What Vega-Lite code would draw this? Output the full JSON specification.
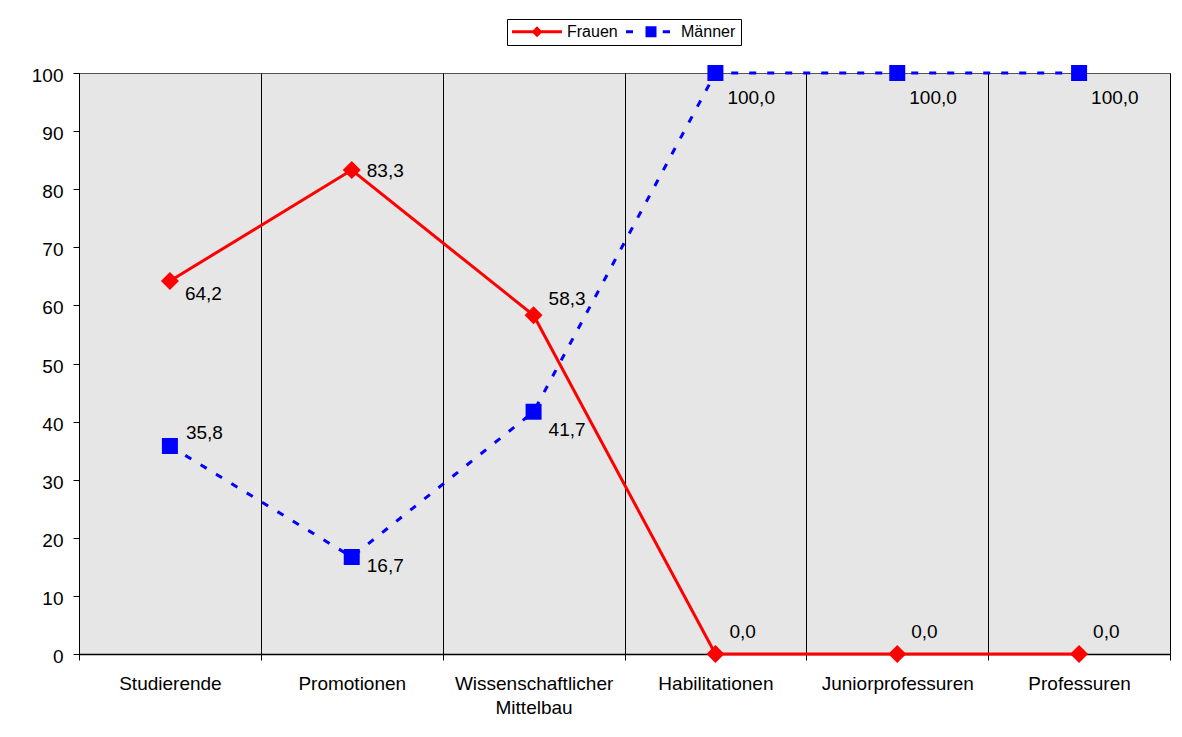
{
  "$schema": "https://vega.github.io/schema/vega-lite/v6.json",
  "width": 1091,
  "height": 581,
  "autosize": {"type": "none"},
  "padding": {"left": 79, "top": 73, "right": 12, "bottom": 83},
  "background": "white",
  "data": {
    "values": [
      {"Bereich": "Studierende", "Geschlecht": "Frauen", "Anteil": 64.2},
      {"Bereich": "Promotionen", "Geschlecht": "Frauen", "Anteil": 83.3},
      {"Bereich": "Wissenschaftlicher Mittelbau", "Geschlecht": "Frauen", "Anteil": 58.3},
      {"Bereich": "Habilitationen", "Geschlecht": "Frauen", "Anteil": 0},
      {"Bereich": "Juniorprofessuren", "Geschlecht": "Frauen", "Anteil": 0},
      {"Bereich": "Professuren", "Geschlecht": "Frauen", "Anteil": 0},
      {"Bereich": "Studierende", "Geschlecht": "Männer", "Anteil": 35.8},
      {"Bereich": "Promotionen", "Geschlecht": "Männer", "Anteil": 16.7},
      {"Bereich": "Wissenschaftlicher Mittelbau", "Geschlecht": "Männer", "Anteil": 41.7},
      {"Bereich": "Habilitationen", "Geschlecht": "Männer", "Anteil": 100},
      {"Bereich": "Juniorprofessuren", "Geschlecht": "Männer", "Anteil": 100},
      {"Bereich": "Professuren", "Geschlecht": "Männer", "Anteil": 100}
    ]
  },
  "encoding": {
    "x": {
      "field": "Bereich",
      "type": "nominal",
      "sort": ["Studierende", "Promotionen", "Wissenschaftlicher Mittelbau", "Habilitationen", "Juniorprofessuren", "Professuren"],
      "bandPosition": 0.5,
      "scale": {"type": "band", "paddingInner": 0, "paddingOuter": 0},
      "axis": {
        "title": null,
        "tickBand": "extent",
        "grid": true,
        "gridColor": "#000000",
        "gridWidth": 1,
        "gridOpacity": 1,
        "domainColor": "#000000",
        "domainWidth": 1.5,
        "tickColor": "#000000",
        "tickSize": 6,
        "labelAngle": 0,
        "labelPadding": 14,
        "labelLineHeight": 24,
        "labelOverlap": false,
        "labelBound": false,
        "labelFlush": false,
        "labelExpr": "datum.value === 'Wissenschaftlicher Mittelbau' ? ['Wissenschaftlicher', 'Mittelbau'] : datum.label"
      }
    },
    "y": {
      "field": "Anteil",
      "type": "quantitative",
      "scale": {"domain": [0, 100], "nice": false, "zero": true},
      "axis": {
        "title": null,
        "grid": false,
        "values": [0, 10, 20, 30, 40, 50, 60, 70, 80, 90, 100],
        "format": "d",
        "domainColor": "#000000",
        "domainWidth": 1,
        "tickColor": "#000000",
        "tickSize": 6,
        "labelPadding": 10,
        "labelOffset": 2.5
      }
    }
  },
  "layer": [
    {
      "transform": [{"filter": "datum.Geschlecht === 'Frauen'"}],
      "mark": {"type": "line", "color": "#FF0000", "strokeWidth": 3, "strokeCap": "butt"}
    },
    {
      "transform": [{"filter": "datum.Geschlecht === 'Frauen'"}],
      "mark": {"type": "point", "shape": "diamond", "filled": true, "color": "#FF0000", "size": 324, "opacity": 1}
    },
    {
      "transform": [{"filter": "datum.Geschlecht === 'Männer'"}],
      "mark": {"type": "line", "color": "#0000FF", "strokeWidth": 3, "strokeCap": "butt", "strokeDash": [7, 11]}
    },
    {
      "transform": [{"filter": "datum.Geschlecht === 'Männer'"}],
      "mark": {"type": "point", "shape": "square", "filled": true, "color": "#0000FF", "size": 256, "opacity": 1}
    },
    {
      "description": "Zero-size points that only carry the legend: each series symbol is a line piece with its marker.",
      "mark": {"type": "point", "filled": true, "size": 0, "opacity": 1, "strokeWidth": 0},
      "encoding": {
        "color": {
          "field": "Geschlecht",
          "type": "nominal",
          "scale": {"domain": ["Frauen", "Männer"], "range": ["#FF0000", "#0000FF"]},
          "legend": {
            "title": null,
            "orient": "none",
            "legendX": 428,
            "legendY": -54,
            "direction": "horizontal",
            "padding": 5,
            "strokeColor": "#000000",
            "fillColor": "#FFFFFF",
            "labelFontSize": 16,
            "labelColor": "#000000",
            "labelOffset": 5,
            "columnPadding": 8,
            "symbolSize": 2500,
            "symbolStrokeWidth": 0,
            "symbolOpacity": 1,
            "clipHeight": 15
          }
        },
        "shape": {
          "field": "Geschlecht",
          "type": "nominal",
          "scale": {
            "domain": ["Frauen", "Männer"],
            "range": [
              "M-1,-0.06H1V0.06H-1Z M0,-0.22L0.22,0L0,0.22L-0.22,0Z",
              "M-1,-0.06H-0.72V0.06H-1Z M0.47,-0.06H0.76V0.06H0.47Z M-0.22,-0.22H0.22V0.22H-0.22Z"
            ]
          },
          "legend": {
            "title": null,
            "orient": "none",
            "legendX": 428,
            "legendY": -54,
            "direction": "horizontal",
            "padding": 5,
            "strokeColor": "#000000",
            "fillColor": "#FFFFFF",
            "labelFontSize": 16,
            "labelColor": "#000000",
            "labelOffset": 5,
            "columnPadding": 8,
            "symbolSize": 2500,
            "symbolStrokeWidth": 0,
            "symbolOpacity": 1,
            "clipHeight": 15
          }
        }
      }
    },
    {
      "transform": [{"filter": "datum.Geschlecht === 'Frauen' && datum.Bereich === 'Studierende'"}],
      "mark": {"type": "text", "align": "left", "baseline": "middle", "dx": 15, "dy": 13, "fontSize": 19, "color": "#000000"},
      "encoding": {"text": {"field": "Anteil", "type": "quantitative", "format": ".1f"}}
    },
    {
      "transform": [{"filter": "datum.Geschlecht === 'Frauen' && datum.Bereich === 'Promotionen'"}],
      "mark": {"type": "text", "align": "left", "baseline": "middle", "dx": 15, "dy": 1, "fontSize": 19, "color": "#000000"},
      "encoding": {"text": {"field": "Anteil", "type": "quantitative", "format": ".1f"}}
    },
    {
      "transform": [{"filter": "datum.Geschlecht === 'Frauen' && datum.Bereich === 'Wissenschaftlicher Mittelbau'"}],
      "mark": {"type": "text", "align": "left", "baseline": "middle", "dx": 15, "dy": -16, "fontSize": 19, "color": "#000000"},
      "encoding": {"text": {"field": "Anteil", "type": "quantitative", "format": ".1f"}}
    },
    {
      "transform": [{"filter": "datum.Geschlecht === 'Frauen' && datum.Anteil === 0"}],
      "mark": {"type": "text", "align": "left", "baseline": "middle", "dx": 14, "dy": -22, "fontSize": 19, "color": "#000000"},
      "encoding": {"text": {"field": "Anteil", "type": "quantitative", "format": ".1f"}}
    },
    {
      "transform": [{"filter": "datum.Geschlecht === 'Männer' && datum.Bereich === 'Studierende'"}],
      "mark": {"type": "text", "align": "left", "baseline": "middle", "dx": 16, "dy": -13, "fontSize": 19, "color": "#000000"},
      "encoding": {"text": {"field": "Anteil", "type": "quantitative", "format": ".1f"}}
    },
    {
      "transform": [{"filter": "datum.Geschlecht === 'Männer' && datum.Bereich === 'Promotionen'"}],
      "mark": {"type": "text", "align": "left", "baseline": "middle", "dx": 15, "dy": 9, "fontSize": 19, "color": "#000000"},
      "encoding": {"text": {"field": "Anteil", "type": "quantitative", "format": ".1f"}}
    },
    {
      "transform": [{"filter": "datum.Geschlecht === 'Männer' && datum.Bereich === 'Wissenschaftlicher Mittelbau'"}],
      "mark": {"type": "text", "align": "left", "baseline": "middle", "dx": 15, "dy": 18, "fontSize": 19, "color": "#000000"},
      "encoding": {"text": {"field": "Anteil", "type": "quantitative", "format": ".1f"}}
    },
    {
      "transform": [{"filter": "datum.Geschlecht === 'Männer' && datum.Anteil === 100"}],
      "mark": {"type": "text", "align": "left", "baseline": "middle", "dx": 12, "dy": 25, "fontSize": 19, "color": "#000000"},
      "encoding": {"text": {"field": "Anteil", "type": "quantitative", "format": ".1f"}}
    }
  ],
  "config": {
    "font": "Liberation Sans",
    "locale": {
      "number": {"decimal": ",", "thousands": ".", "grouping": [3], "currency": ["", " €"]}
    },
    "view": {"fill": "#E6E6E6", "stroke": "#555555", "strokeWidth": 1},
    "axis": {
      "labelFont": "Liberation Sans",
      "labelFontSize": 19,
      "labelColor": "#000000"
    },
    "legend": {"labelFont": "Liberation Sans"},
    "text": {"font": "Liberation Sans"}
  }
}
